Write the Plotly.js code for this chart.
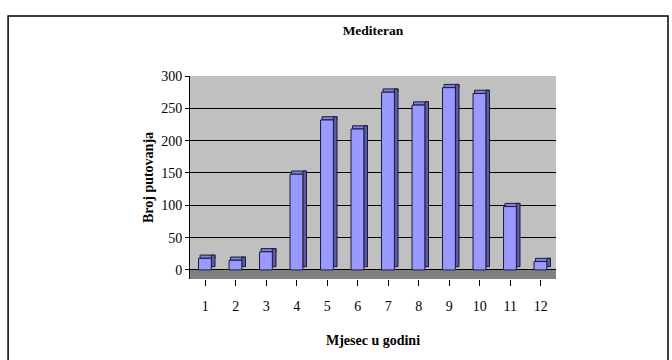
<!DOCTYPE html>
<html>
<head>
<meta charset="utf-8">
<script src="https://cdn.plot.ly/plotly-3.0.1.min.js"></script>
<style>html,body{margin:0;padding:0;background:#fff;}#chart{width:672px;height:360px;}</style>
</head>
<body>
<div id="chart"></div>
<script>
const months = ["1","2","3","4","5","6","7","8","9","10","11","12"];
const trips = [18, 15, 28, 148, 232, 218, 275, 255, 282, 273, 98, 13];
const yTicks = [0, 50, 100, 150, 200, 250, 300];
const chartTitle = "Mediteran";
const xTitle = "Mjesec u godini";
const yTitle = "Broj putovanja";

const depth = 5; // visual depth of the bar tops, in value units
const sideTrace = {
  type: "bar", x: months, y: trips.map(v => v), base: depth,
  offset: 0.2, width: 0.12,
  marker: {color: "#5B5BA0", line: {color: "#1a1a40", width: 1}},
  hoverinfo: "skip", showlegend: false
};
const topTrace = {
  type: "bar", x: months, y: trips.map(() => depth), base: trips,
  offset: -0.17, width: 0.49,
  marker: {color: "#8080D8", line: {color: "#1a1a40", width: 1}},
  hoverinfo: "skip", showlegend: false
};
const frontTrace = {
  type: "bar", x: months, y: trips,
  offset: -0.22, width: 0.42,
  marker: {color: "#9999FF", line: {color: "#1a1a40", width: 1}},
  showlegend: false
};

const font = "Liberation Serif, Times New Roman, serif";
Plotly.newPlot("chart", [topTrace, sideTrace, frontTrace], {
  width: 672, height: 360,
  margin: {l: 190, r: 116, t: 76, b: 81},
  paper_bgcolor: "#ffffff",
  plot_bgcolor: "#C0C0C0",
  barmode: "overlay",
  font: {family: font, size: 14, color: "#000"},
  title: {text: "<b>" + chartTitle + "</b>", x: 0.5, xref: "paper", y: 0.915, yanchor: "middle",
          font: {family: font, size: 13.5, color: "#000"}},
  xaxis: {
    type: "category", tickvals: months, ticktext: months,
    showline: false, ticks: "outside", ticklen: 6, tickcolor: "#000",
    ticklabelstandoff: 8,
    tickfont: {family: font, size: 14},
    showgrid: false,
    title: {text: "<b>" + xTitle + "</b>", standoff: 22, font: {family: font, size: 14}}
  },
  yaxis: {
    range: [-14, 300], tickvals: yTicks,
    showline: true, linecolor: "#000", linewidth: 1,
    ticks: "outside", ticklen: 4, tickcolor: "#000",
    showgrid: true, gridcolor: "#000", gridwidth: 1,
    zeroline: true, zerolinecolor: "#000", zerolinewidth: 1,
    tickfont: {family: font, size: 14},
    title: {text: "<b>" + yTitle + "</b>", standoff: 4, font: {family: font, size: 14}}
  },
  shapes: [
    {type: "rect", xref: "paper", yref: "y", x0: 0, x1: 1, y0: -14, y1: 0,
     fillcolor: "#808080", line: {width: 0}, layer: "below"},
    {type: "rect", xref: "paper", yref: "paper", x0: -0.497, x1: 1.306, y0: -0.44, y1: 1.295,
     fillcolor: "rgba(0,0,0,0)", line: {color: "#000", width: 1.5}, layer: "above"}
  ]
}, {displayModeBar: false, staticPlot: true});
</script>
</body>
</html>
